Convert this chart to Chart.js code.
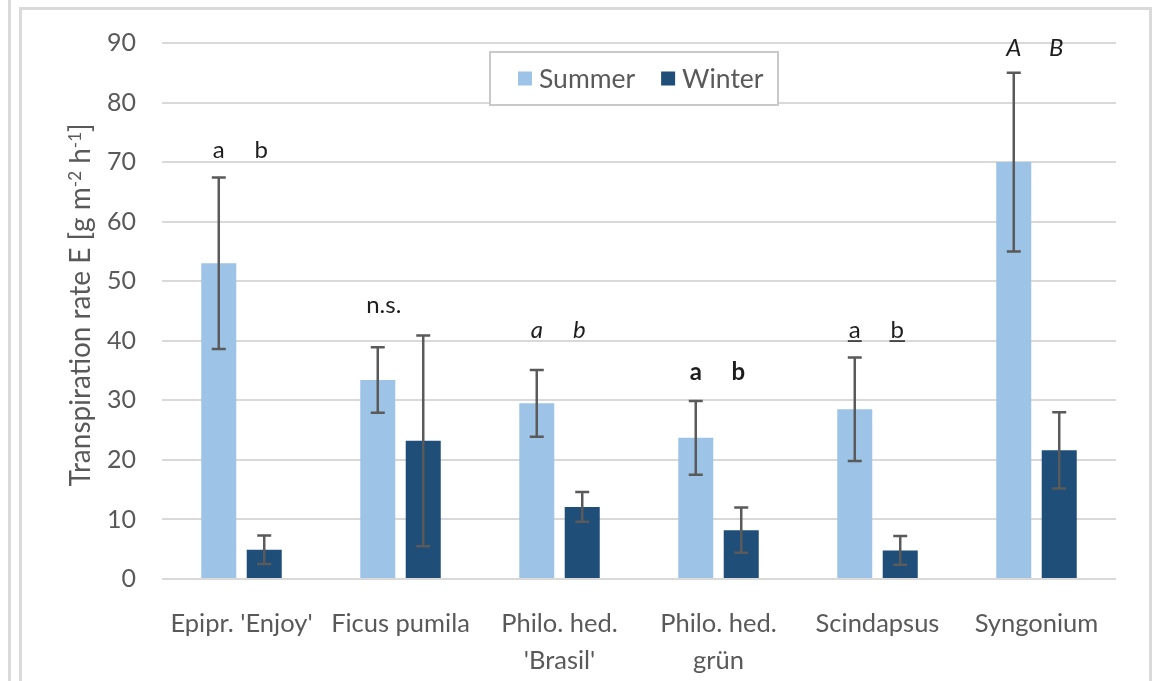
<!DOCTYPE html>
<html>
<head>
<meta charset="utf-8">
<title>Transpiration rate</title>
<script src="https://cdn.jsdelivr.net/npm/chart.js@4.4.1/dist/chart.umd.min.js"></script>
<style>
  html, body { margin: 0; padding: 0; background: #fff; width: 1153px; height: 681px; overflow: hidden; }
  #wrap { position: relative; width: 1153px; height: 681px; }
  .edge { position: absolute; background: #dadada; }
  canvas { position: absolute; left: 0; top: 0; }
</style>
</head>
<body>
<div id="wrap">
  <div class="edge" style="left:8px;top:0;width:3px;height:681px"></div>
  <div class="edge" style="left:19px;top:7px;width:3px;height:674px"></div>
  <div class="edge" style="left:19px;top:7px;width:1133px;height:3px"></div>
  <div class="edge" style="left:1149px;top:7px;width:3px;height:674px"></div>
  <canvas id="chart" width="1153" height="681"></canvas>
</div>
<script>
// Plant species (multi-line labels are arrays)
const categories = [
  "Epipr. 'Enjoy'",
  "Ficus pumila",
  ["Philo. hed.", "'Brasil'"],
  ["Philo. hed.", "grün"],
  "Scindapsus",
  "Syngonium"
];

// Mean transpiration rate E [g m-2 h-1] and standard deviation per season
const summerMean = [53.0, 33.4, 29.5, 23.7, 28.5, 70.0];
const summerSD   = [14.4,  5.5,  5.6,  6.2,  8.7, 15.0];
const winterMean = [ 4.9, 23.2, 12.1,  8.2,  4.8, 21.6];
const winterSD   = [ 2.4, 17.7,  2.5,  3.8,  2.4,  6.4];

// Significance letters (summer vs. winter) per species
const sigLetters = [["a", "b"], ["n.s."], ["a", "b"], ["a", "b"], ["a", "b"], ["A", "B"]];

const yTicks = [0, 10, 20, 30, 40, 50, 60, 70, 80, 90];
const seriesNames = ["Summer", "Winter"];

// ---- appearance ----
const FONT = "Lato, 'Open Sans', sans-serif";
const TEXT = "#595959";
const COLORS = ["#9DC3E6", "#1F4E79"];
// level (in axis units) and typeface of each letter group
const LETTER_LEVEL = [72.0, 46.0, 41.8, 34.7, 41.8, 89.1];
const LETTER_STYLE = ["normal", "normal", "italic", "bold", "underline", "italic"];

const errorBars = {
  id: "errorBars",
  afterDatasetsDraw(chart) {
    const ctx = chart.ctx, y = chart.scales.y;
    chart.data.datasets.forEach((ds, di) => {
      chart.getDatasetMeta(di).data.forEach((bar, i) => {
        const m = ds.data[i], e = ds.errors[i];
        const top = y.getPixelForValue(m + e), bot = y.getPixelForValue(m - e);
        ctx.save();
        ctx.strokeStyle = "#5a5a5a";
        ctx.lineWidth = 2.5;
        ctx.beginPath();
        ctx.moveTo(bar.x, top); ctx.lineTo(bar.x, bot);
        ctx.moveTo(bar.x - 7, top); ctx.lineTo(bar.x + 7, top);
        ctx.moveTo(bar.x - 7, bot); ctx.lineTo(bar.x + 7, bot);
        ctx.stroke();
        ctx.restore();
      });
    });
  }
};

const letters = {
  id: "letters",
  afterDatasetsDraw(chart) {
    const ctx = chart.ctx, y = chart.scales.y;
    const m0 = chart.getDatasetMeta(0).data, m1 = chart.getDatasetMeta(1).data;
    sigLetters.forEach((group, i) => {
      const style = LETTER_STYLE[i];
      const py = y.getPixelForValue(LETTER_LEVEL[i]);
      ctx.save();
      ctx.fillStyle = "#1e1e1e";
      ctx.strokeStyle = "#1e1e1e";
      ctx.textAlign = "center";
      ctx.textBaseline = "middle";
      const weight = style === "bold" ? "bold " : "";
      const slant = style === "italic" ? "italic " : "";
      ctx.font = slant + weight + "24px " + FONT;
      const xs = group.length === 2 ? [m0[i].x, m1[i].x - 3] : [m0[i].x + 6];
      group.forEach((t, k) => {
        ctx.fillText(t, xs[k], py);
        if (style === "underline") {
          const w = ctx.measureText(t).width;
          ctx.lineWidth = 1.5;
          ctx.beginPath();
          ctx.moveTo(xs[k] - w / 2 - 1, py + 11);
          ctx.lineTo(xs[k] + w / 2 + 1, py + 11);
          ctx.stroke();
        }
      });
      ctx.restore();
    });
  }
};

const yTitle = {
  id: "yTitle",
  afterDraw(chart) {
    const ctx = chart.ctx, ca = chart.chartArea;
    const parts = [
      ["Transpiration rate E [g m", false], ["-2", true], [" h", false], ["-1", true], ["]", false]
    ];
    const big = "28px " + FONT, small = "17px " + FONT;
    ctx.save();
    let total = 0;
    parts.forEach(([t, sup]) => { ctx.font = sup ? small : big; total += ctx.measureText(t).width; });
    ctx.translate(81, (ca.top + ca.bottom) / 2 - 6);
    ctx.rotate(-Math.PI / 2);
    ctx.fillStyle = TEXT;
    ctx.textBaseline = "alphabetic";
    ctx.textAlign = "left";
    let x = -total / 2;
    parts.forEach(([t, sup]) => {
      ctx.font = sup ? small : big;
      ctx.fillText(t, x, sup ? 0 : 9);
      x += ctx.measureText(t).width;
    });
    ctx.restore();
  }
};

const boxedLegend = {
  id: "boxedLegend",
  afterDraw(chart) {
    const ctx = chart.ctx, ca = chart.chartArea;
    const left = ca.left + 328, top = ca.top + 9, w = 288, h = 53;
    ctx.save();
    ctx.fillStyle = "#fff";
    ctx.fillRect(left, top, w, h);
    ctx.strokeStyle = "#c9c9c9";
    ctx.lineWidth = 2;
    ctx.strokeRect(left, top, w, h);
    ctx.font = "26.5px " + FONT;
    ctx.textBaseline = "middle";
    ctx.textAlign = "left";
    const cy = top + h / 2;
    let x = left + 28;
    seriesNames.forEach((name, i) => {
      ctx.fillStyle = COLORS[i];
      ctx.fillRect(x, cy - 7, 14, 14);
      ctx.fillStyle = TEXT;
      ctx.fillText(name, x + 21, cy + 1);
      x += 21 + ctx.measureText(name).width + 26;
    });
    ctx.restore();
  }
};

new Chart(document.getElementById("chart"), {
  type: "bar",
  data: {
    labels: categories,
    datasets: [
      { label: seriesNames[0], data: summerMean, errors: summerSD, backgroundColor: COLORS[0],
        categoryPercentage: 0.572, barPercentage: 0.77 },
      { label: seriesNames[1], data: winterMean, errors: winterSD, backgroundColor: COLORS[1],
        categoryPercentage: 0.572, barPercentage: 0.77 }
    ]
  },
  options: {
    responsive: false,
    animation: false,
    devicePixelRatio: 1,
    layout: { padding: { left: 20, right: 37, top: 43, bottom: 0 } },
    plugins: { legend: { display: false }, tooltip: { enabled: false } },
    scales: {
      x: {
        grid: { display: false },
        border: { display: false },
        ticks: {
          color: TEXT, font: { family: FONT, size: 25.5, lineHeight: 1.45 },
          padding: 18, maxRotation: 0, autoSkip: false
        },
        afterFit(s) { s.height = 102; }
      },
      y: {
        min: 0, max: 90,
        afterBuildTicks(s) { s.ticks = yTicks.map(v => ({ value: v })); },
        grid: { color: "#d9d9d9", lineWidth: 2, drawTicks: false },
        border: { display: false },
        ticks: { color: TEXT, font: { family: FONT, size: 25 }, padding: 26 },
        afterFit(s) { s.width = 142; }
      }
    }
  },
  plugins: [errorBars, letters, yTitle, boxedLegend]
});
</script>
</body>
</html>
